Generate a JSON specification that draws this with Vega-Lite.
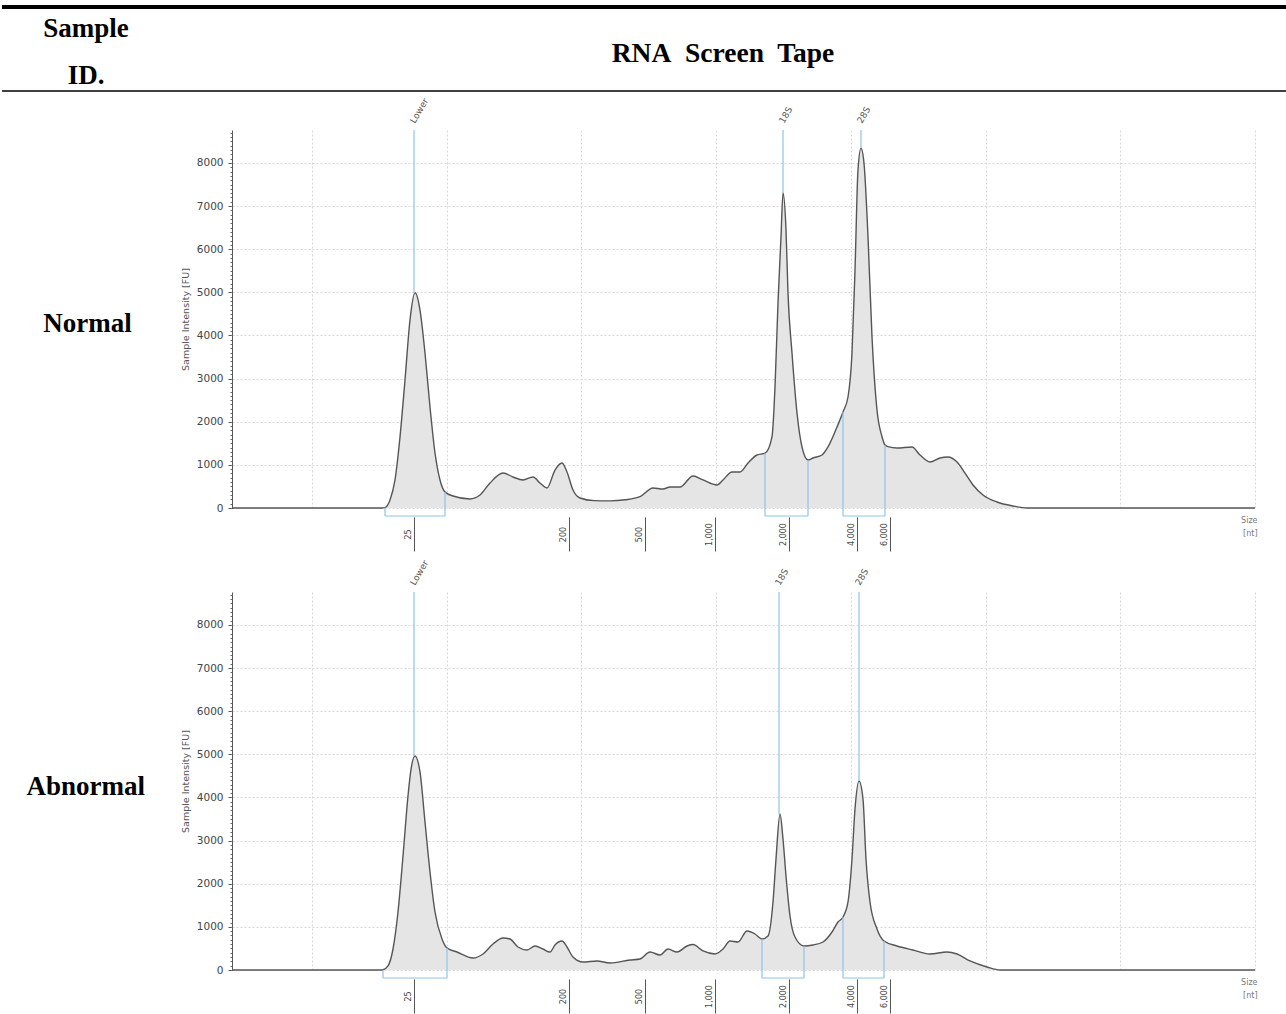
{
  "$schema": "https://vega.github.io/schema/vega-lite/v6.json",
  "background": "white",
  "padding": {"left": 0, "top": 5, "right": 0, "bottom": 0},
  "autosize": {"type": "pad"},
  "config": {
    "view": {"stroke": null},
    "axis": {"labelFont": "DejaVu Sans", "titleFont": "DejaVu Sans"},
    "text": {"font": "DejaVu Sans"},
    "title": {"font": "Liberation Serif", "fontWeight": "bold", "fontSize": 27, "color": "black"}
  },
  "datasets": {
    "trace": [
      {"sample":"Normal","pos":0,"fu":0},{"sample":"Normal","pos":140,"fu":0},{"sample":"Normal","pos":150,"fu":0},{"sample":"Normal","pos":153,"fu":10},{"sample":"Normal","pos":158,"fu":185},{"sample":"Normal","pos":163,"fu":650},{"sample":"Normal","pos":168,"fu":1646},{"sample":"Normal","pos":173,"fu":2968},{"sample":"Normal","pos":178,"fu":4360},{"sample":"Normal","pos":183,"fu":4990},{"sample":"Normal","pos":188,"fu":4590},{"sample":"Normal","pos":193,"fu":3594},{"sample":"Normal","pos":198,"fu":2342},{"sample":"Normal","pos":203,"fu":1275},{"sample":"Normal","pos":208,"fu":650},{"sample":"Normal","pos":213,"fu":371},{"sample":"Normal","pos":221,"fu":278},{"sample":"Normal","pos":238,"fu":209},{"sample":"Normal","pos":248,"fu":301},{"sample":"Normal","pos":258,"fu":580},{"sample":"Normal","pos":271,"fu":811},{"sample":"Normal","pos":281,"fu":719},{"sample":"Normal","pos":291,"fu":650},{"sample":"Normal","pos":301,"fu":719},{"sample":"Normal","pos":308,"fu":580},{"sample":"Normal","pos":315,"fu":464},{"sample":"Normal","pos":323,"fu":881},{"sample":"Normal","pos":330,"fu":1043},{"sample":"Normal","pos":335,"fu":835},{"sample":"Normal","pos":341,"fu":417},{"sample":"Normal","pos":348,"fu":232},{"sample":"Normal","pos":362,"fu":170},{"sample":"Normal","pos":378,"fu":165},{"sample":"Normal","pos":393,"fu":190},{"sample":"Normal","pos":408,"fu":262},{"sample":"Normal","pos":421,"fu":464},{"sample":"Normal","pos":431,"fu":440},{"sample":"Normal","pos":438,"fu":487},{"sample":"Normal","pos":448,"fu":487},{"sample":"Normal","pos":461,"fu":742},{"sample":"Normal","pos":471,"fu":650},{"sample":"Normal","pos":485,"fu":533},{"sample":"Normal","pos":491,"fu":650},{"sample":"Normal","pos":500,"fu":835},{"sample":"Normal","pos":508,"fu":835},{"sample":"Normal","pos":516,"fu":1043},{"sample":"Normal","pos":525,"fu":1229},{"sample":"Normal","pos":533,"fu":1270},{"sample":"Normal","pos":540,"fu":1650},{"sample":"Normal","pos":543,"fu":2806},{"sample":"Normal","pos":546,"fu":4754},{"sample":"Normal","pos":549,"fu":6285},{"sample":"Normal","pos":551,"fu":7305},{"sample":"Normal","pos":554,"fu":6447},{"sample":"Normal","pos":556,"fu":4986},{"sample":"Normal","pos":560,"fu":3594},{"sample":"Normal","pos":565,"fu":2203},{"sample":"Normal","pos":570,"fu":1415},{"sample":"Normal","pos":576,"fu":1113},{"sample":"Normal","pos":581,"fu":1160},{"sample":"Normal","pos":590,"fu":1229},{"sample":"Normal","pos":596,"fu":1415},{"sample":"Normal","pos":605,"fu":1878},{"sample":"Normal","pos":611,"fu":2226},{"sample":"Normal","pos":616,"fu":2574},{"sample":"Normal","pos":620,"fu":3594},{"sample":"Normal","pos":623,"fu":5519},{"sample":"Normal","pos":626,"fu":7838},{"sample":"Normal","pos":629,"fu":8341},{"sample":"Normal","pos":632,"fu":7993},{"sample":"Normal","pos":636,"fu":6291},{"sample":"Normal","pos":640,"fu":3972},{"sample":"Normal","pos":645,"fu":2273},{"sample":"Normal","pos":650,"fu":1653},{"sample":"Normal","pos":653,"fu":1461},{"sample":"Normal","pos":656,"fu":1422},{"sample":"Normal","pos":665,"fu":1391},{"sample":"Normal","pos":680,"fu":1415},{"sample":"Normal","pos":688,"fu":1229},{"sample":"Normal","pos":698,"fu":1067},{"sample":"Normal","pos":708,"fu":1160},{"sample":"Normal","pos":716,"fu":1183},{"sample":"Normal","pos":725,"fu":1067},{"sample":"Normal","pos":733,"fu":811},{"sample":"Normal","pos":741,"fu":533},{"sample":"Normal","pos":751,"fu":301},{"sample":"Normal","pos":765,"fu":139},{"sample":"Normal","pos":781,"fu":46},{"sample":"Normal","pos":795,"fu":0},{"sample":"Normal","pos":1023,"fu":0},
      {"sample":"Abnormal","pos":0,"fu":0},{"sample":"Abnormal","pos":140,"fu":0},{"sample":"Abnormal","pos":148,"fu":0},{"sample":"Abnormal","pos":151,"fu":5},{"sample":"Abnormal","pos":156,"fu":93},{"sample":"Abnormal","pos":161,"fu":487},{"sample":"Abnormal","pos":166,"fu":1345},{"sample":"Abnormal","pos":171,"fu":2644},{"sample":"Abnormal","pos":176,"fu":4035},{"sample":"Abnormal","pos":179,"fu":4650},{"sample":"Abnormal","pos":183,"fu":4963},{"sample":"Abnormal","pos":188,"fu":4592},{"sample":"Abnormal","pos":193,"fu":3432},{"sample":"Abnormal","pos":198,"fu":2273},{"sample":"Abnormal","pos":203,"fu":1345},{"sample":"Abnormal","pos":210,"fu":719},{"sample":"Abnormal","pos":215,"fu":510},{"sample":"Abnormal","pos":225,"fu":417},{"sample":"Abnormal","pos":241,"fu":278},{"sample":"Abnormal","pos":251,"fu":371},{"sample":"Abnormal","pos":261,"fu":603},{"sample":"Abnormal","pos":271,"fu":742},{"sample":"Abnormal","pos":278,"fu":719},{"sample":"Abnormal","pos":286,"fu":533},{"sample":"Abnormal","pos":295,"fu":464},{"sample":"Abnormal","pos":303,"fu":557},{"sample":"Abnormal","pos":311,"fu":487},{"sample":"Abnormal","pos":318,"fu":417},{"sample":"Abnormal","pos":323,"fu":580},{"sample":"Abnormal","pos":330,"fu":672},{"sample":"Abnormal","pos":335,"fu":533},{"sample":"Abnormal","pos":341,"fu":301},{"sample":"Abnormal","pos":351,"fu":185},{"sample":"Abnormal","pos":365,"fu":209},{"sample":"Abnormal","pos":378,"fu":162},{"sample":"Abnormal","pos":398,"fu":232},{"sample":"Abnormal","pos":408,"fu":255},{"sample":"Abnormal","pos":418,"fu":417},{"sample":"Abnormal","pos":428,"fu":348},{"sample":"Abnormal","pos":436,"fu":487},{"sample":"Abnormal","pos":445,"fu":417},{"sample":"Abnormal","pos":455,"fu":557},{"sample":"Abnormal","pos":461,"fu":590},{"sample":"Abnormal","pos":471,"fu":441},{"sample":"Abnormal","pos":483,"fu":371},{"sample":"Abnormal","pos":491,"fu":487},{"sample":"Abnormal","pos":498,"fu":672},{"sample":"Abnormal","pos":506,"fu":649},{"sample":"Abnormal","pos":515,"fu":904},{"sample":"Abnormal","pos":523,"fu":835},{"sample":"Abnormal","pos":530,"fu":719},{"sample":"Abnormal","pos":536,"fu":788},{"sample":"Abnormal","pos":541,"fu":1577},{"sample":"Abnormal","pos":544,"fu":2574},{"sample":"Abnormal","pos":548,"fu":3618},{"sample":"Abnormal","pos":551,"fu":3038},{"sample":"Abnormal","pos":554,"fu":2180},{"sample":"Abnormal","pos":558,"fu":1252},{"sample":"Abnormal","pos":563,"fu":765},{"sample":"Abnormal","pos":572,"fu":557},{"sample":"Abnormal","pos":581,"fu":580},{"sample":"Abnormal","pos":591,"fu":649},{"sample":"Abnormal","pos":600,"fu":881},{"sample":"Abnormal","pos":606,"fu":1113},{"sample":"Abnormal","pos":611,"fu":1229},{"sample":"Abnormal","pos":616,"fu":1577},{"sample":"Abnormal","pos":620,"fu":2574},{"sample":"Abnormal","pos":623,"fu":3734},{"sample":"Abnormal","pos":627,"fu":4383},{"sample":"Abnormal","pos":631,"fu":3966},{"sample":"Abnormal","pos":634,"fu":2574},{"sample":"Abnormal","pos":638,"fu":1577},{"sample":"Abnormal","pos":645,"fu":951},{"sample":"Abnormal","pos":652,"fu":672},{"sample":"Abnormal","pos":665,"fu":557},{"sample":"Abnormal","pos":681,"fu":464},{"sample":"Abnormal","pos":698,"fu":371},{"sample":"Abnormal","pos":715,"fu":417},{"sample":"Abnormal","pos":725,"fu":371},{"sample":"Abnormal","pos":738,"fu":209},{"sample":"Abnormal","pos":755,"fu":70},{"sample":"Abnormal","pos":768,"fu":0},{"sample":"Abnormal","pos":1023,"fu":0}
    ],
    "markers": [
      {"sample":"Normal","marker":"Lower","pos":182,"peak":4990},
      {"sample":"Normal","marker":"18S","pos":551,"peak":7305},
      {"sample":"Normal","marker":"28S","pos":629,"peak":8341},
      {"sample":"Abnormal","marker":"Lower","pos":182,"peak":4963},
      {"sample":"Abnormal","marker":"18S","pos":547,"peak":3618},
      {"sample":"Abnormal","marker":"28S","pos":627,"peak":4383}
    ],
    "regions": [
      {"sample":"Normal","marker":"Lower","from":153,"to":213,"hFrom":10,"hTo":371},
      {"sample":"Normal","marker":"18S","from":533,"to":576,"hFrom":1270,"hTo":1113},
      {"sample":"Normal","marker":"28S","from":611,"to":653,"hFrom":2226,"hTo":1461},
      {"sample":"Abnormal","marker":"Lower","from":151,"to":215,"hFrom":5,"hTo":510},
      {"sample":"Abnormal","marker":"18S","from":530,"to":572,"hFrom":719,"hTo":557},
      {"sample":"Abnormal","marker":"28S","from":611,"to":652,"hFrom":1229,"hTo":672}
    ]
  },
  "title": {"text": ["Sample", "ID."], "anchor": "start", "frame": "bounds", "align": "center", "dx": 86, "offset": -85, "lineHeight": 47},
  "vconcat": [
    {
      "title": {"text": "RNA\u00a0 Screen\u00a0 Tape", "anchor": "middle", "frame": "bounds", "dx": 79, "offset": -62, "fontSize": 27.5},
      "bounds": "flush",
      "spacing": 84,
      "vconcat": [
        {
          "width": 1023, "height": 378,
          "title": {"text": "Normal", "orient": "left", "anchor": "middle", "angle": 0, "align": "center", "baseline": "middle", "offset": -176, "dy": 5},
          "resolve": {"axis": {"x": "independent", "y": "independent"}},
          "layer": [
            {
              "data": {"name": "trace"},
              "transform": [{"filter": "datum.sample === 'Normal'"}],
              "mark": {"type": "area", "interpolate": "monotone", "color": "#e5e5e5", "opacity": 1, "line": {"color": "#555555", "strokeWidth": 1.4}},
              "encoding": {
                "x": {"field": "pos", "type": "quantitative", "scale": {"domain": [0, 1023], "nice": false, "zero": false},
                  "axis": {"orient": "bottom", "values": [182, 337, 413, 483, 557, 625, 658],
                    "labelExpr": "datum.value == 182 ? '25' : datum.value == 337 ? '200' : datum.value == 413 ? '500' : datum.value == 483 ? '1,000' : datum.value == 557 ? '2,000' : datum.value == 625 ? '4,000' : '6,000'",
                    "offset": 9, "domain": false, "grid": false, "ticks": true, "tickSize": 34, "tickColor": "#555555", "tickWidth": 1,
                    "labelAngle": 270, "labelAlign": "center", "labelBaseline": "bottom", "labelPadding": -17, "labelOffset": -2,
                    "labelFontSize": 8, "labelColor": "#444444", "labelOverlap": false, "labelBound": false, "labelFlush": false,
                    "title": ["Size", "[nt]"], "titleX": 1025, "titleY": -1, "titleAlign": "right", "titleAnchor": "end", "titleAngle": 0, "titleBaseline": "top",
                    "titleFontSize": 8, "titleFontWeight": "normal", "titleColor": "#777777", "titleLineHeight": 13}},
                "y": {"field": "fu", "type": "quantitative", "scale": {"domain": [0, 8765], "nice": false},
                  "axis": {"orient": "left", "title": "Sample Intensity [FU]", "values": [0, 1000, 2000, 3000, 4000, 5000, 6000, 7000, 8000], "format": "d",
                    "labelFontSize": 10.5, "labelColor": "#444444", "labelPadding": 5,
                    "grid": true, "gridDash": [2, 2], "gridColor": "#d8d8d8",
                    "tickSize": 4, "tickColor": "#555555", "domainColor": "#555555",
                    "titleFontSize": 9.5, "titleFontWeight": "normal", "titleColor": "#555555", "titlePadding": 6}}
              }
            },
            {
              "data": {"name": "markers"},
              "transform": [{"filter": "datum.sample === 'Normal'"}],
              "mark": {"type": "rule", "color": "#8ec3ea", "strokeWidth": 1.2},
              "encoding": {
                "x": {"field": "pos", "type": "quantitative",
                  "axis": {"orient": "top", "values": [80, 215, 349, 484, 619, 754, 888, 1023], "grid": true, "gridDash": [2, 2], "gridColor": "#d8d8d8", "ticks": false, "labels": false, "domain": false, "title": null}},
                "y": {"field": "peak", "type": "quantitative",
                  "axis": {"orient": "left", "tickCount": 88, "labels": false, "domain": false, "grid": false, "ticks": true, "tickSize": 2, "tickColor": "#666666", "title": null}},
                "y2": {"datum": 8765}
              }
            },
            {
              "data": {"name": "markers"},
              "transform": [{"filter": "datum.sample === 'Normal'"}],
              "mark": {"type": "text", "angle": 300, "align": "left", "baseline": "middle", "fontSize": 9, "color": "#555555", "dx": -3},
              "encoding": {
                "x": {"field": "pos", "type": "quantitative", "axis": null},
                "y": {"datum": 9000, "type": "quantitative", "axis": null},
                "text": {"field": "marker", "type": "nominal"}
              }
            },
            {
              "data": {"name": "regions"},
              "transform": [{"filter": "datum.sample === 'Normal'"}],
              "mark": {"type": "rule", "color": "#8ec3ea", "strokeWidth": 1.2},
              "encoding": {
                "x": {"field": "from", "type": "quantitative", "axis": null},
                "x2": {"field": "to"},
                "y": {"datum": -185, "type": "quantitative", "axis": null}
              }
            },
            {
              "data": {"name": "regions"},
              "transform": [{"filter": "datum.sample === 'Normal'"}],
              "mark": {"type": "rule", "color": "#8ec3ea", "strokeWidth": 1.2},
              "encoding": {
                "x": {"field": "from", "type": "quantitative", "axis": null},
                "y": {"field": "hFrom", "type": "quantitative", "axis": null},
                "y2": {"datum": -185}
              }
            },
            {
              "data": {"name": "regions"},
              "transform": [{"filter": "datum.sample === 'Normal'"}],
              "mark": {"type": "rule", "color": "#8ec3ea", "strokeWidth": 1.2},
              "encoding": {
                "x": {"field": "to", "type": "quantitative", "axis": null},
                "y": {"field": "hTo", "type": "quantitative", "axis": null},
                "y2": {"datum": -185}
              }
            },
            {
              "data": {"values": [{"rule": "table header bottom"}]},
              "mark": {"type": "rule", "color": "black", "strokeWidth": 1.5},
              "encoding": {
                "x": {"datum": -230, "type": "quantitative", "axis": null},
                "x2": {"datum": 1054},
                "y": {"datum": 9669, "type": "quantitative", "axis": null}
              }
            },
            {
              "data": {"values": [{"rule": "table top"}]},
              "mark": {"type": "rule", "color": "black", "strokeWidth": 4},
              "encoding": {
                "x": {"datum": -230, "type": "quantitative", "axis": null},
                "x2": {"datum": 1054},
                "y": {"datum": 11617, "type": "quantitative", "axis": null}
              }
            }
          ]
        },
        {
          "width": 1023, "height": 378,
          "title": {"text": "Abnormal", "orient": "left", "anchor": "middle", "angle": 0, "align": "center", "baseline": "middle", "offset": -24, "dy": 6},
          "resolve": {"axis": {"x": "independent", "y": "independent"}},
          "layer": [
            {
              "data": {"name": "trace"},
              "transform": [{"filter": "datum.sample === 'Abnormal'"}],
              "mark": {"type": "area", "interpolate": "monotone", "color": "#e5e5e5", "opacity": 1, "line": {"color": "#555555", "strokeWidth": 1.4}},
              "encoding": {
                "x": {"field": "pos", "type": "quantitative", "scale": {"domain": [0, 1023], "nice": false, "zero": false},
                  "axis": {"orient": "bottom", "values": [182, 337, 413, 483, 557, 625, 658],
                    "labelExpr": "datum.value == 182 ? '25' : datum.value == 337 ? '200' : datum.value == 413 ? '500' : datum.value == 483 ? '1,000' : datum.value == 557 ? '2,000' : datum.value == 625 ? '4,000' : '6,000'",
                    "offset": 9, "domain": false, "grid": false, "ticks": true, "tickSize": 34, "tickColor": "#555555", "tickWidth": 1,
                    "labelAngle": 270, "labelAlign": "center", "labelBaseline": "bottom", "labelPadding": -17, "labelOffset": -2,
                    "labelFontSize": 8, "labelColor": "#444444", "labelOverlap": false, "labelBound": false, "labelFlush": false,
                    "title": ["Size", "[nt]"], "titleX": 1025, "titleY": -1, "titleAlign": "right", "titleAnchor": "end", "titleAngle": 0, "titleBaseline": "top",
                    "titleFontSize": 8, "titleFontWeight": "normal", "titleColor": "#777777", "titleLineHeight": 13}},
                "y": {"field": "fu", "type": "quantitative", "scale": {"domain": [0, 8765], "nice": false},
                  "axis": {"orient": "left", "title": "Sample Intensity [FU]", "values": [0, 1000, 2000, 3000, 4000, 5000, 6000, 7000, 8000], "format": "d",
                    "labelFontSize": 10.5, "labelColor": "#444444", "labelPadding": 5,
                    "grid": true, "gridDash": [2, 2], "gridColor": "#d8d8d8",
                    "tickSize": 4, "tickColor": "#555555", "domainColor": "#555555",
                    "titleFontSize": 9.5, "titleFontWeight": "normal", "titleColor": "#555555", "titlePadding": 6}}
              }
            },
            {
              "data": {"name": "markers"},
              "transform": [{"filter": "datum.sample === 'Abnormal'"}],
              "mark": {"type": "rule", "color": "#8ec3ea", "strokeWidth": 1.2},
              "encoding": {
                "x": {"field": "pos", "type": "quantitative",
                  "axis": {"orient": "top", "values": [80, 215, 349, 484, 619, 754, 888, 1023], "grid": true, "gridDash": [2, 2], "gridColor": "#d8d8d8", "ticks": false, "labels": false, "domain": false, "title": null}},
                "y": {"field": "peak", "type": "quantitative",
                  "axis": {"orient": "left", "tickCount": 88, "labels": false, "domain": false, "grid": false, "ticks": true, "tickSize": 2, "tickColor": "#666666", "title": null}},
                "y2": {"datum": 8765}
              }
            },
            {
              "data": {"name": "markers"},
              "transform": [{"filter": "datum.sample === 'Abnormal'"}],
              "mark": {"type": "text", "angle": 300, "align": "left", "baseline": "middle", "fontSize": 9, "color": "#555555", "dx": -3},
              "encoding": {
                "x": {"field": "pos", "type": "quantitative", "axis": null},
                "y": {"datum": 9000, "type": "quantitative", "axis": null},
                "text": {"field": "marker", "type": "nominal"}
              }
            },
            {
              "data": {"name": "regions"},
              "transform": [{"filter": "datum.sample === 'Abnormal'"}],
              "mark": {"type": "rule", "color": "#8ec3ea", "strokeWidth": 1.2},
              "encoding": {
                "x": {"field": "from", "type": "quantitative", "axis": null},
                "x2": {"field": "to"},
                "y": {"datum": -185, "type": "quantitative", "axis": null}
              }
            },
            {
              "data": {"name": "regions"},
              "transform": [{"filter": "datum.sample === 'Abnormal'"}],
              "mark": {"type": "rule", "color": "#8ec3ea", "strokeWidth": 1.2},
              "encoding": {
                "x": {"field": "from", "type": "quantitative", "axis": null},
                "y": {"field": "hFrom", "type": "quantitative", "axis": null},
                "y2": {"datum": -185}
              }
            },
            {
              "data": {"name": "regions"},
              "transform": [{"filter": "datum.sample === 'Abnormal'"}],
              "mark": {"type": "rule", "color": "#8ec3ea", "strokeWidth": 1.2},
              "encoding": {
                "x": {"field": "to", "type": "quantitative", "axis": null},
                "y": {"field": "hTo", "type": "quantitative", "axis": null},
                "y2": {"datum": -185}
              }
            }
          ]
        }
      ]
    }
  ]
}
